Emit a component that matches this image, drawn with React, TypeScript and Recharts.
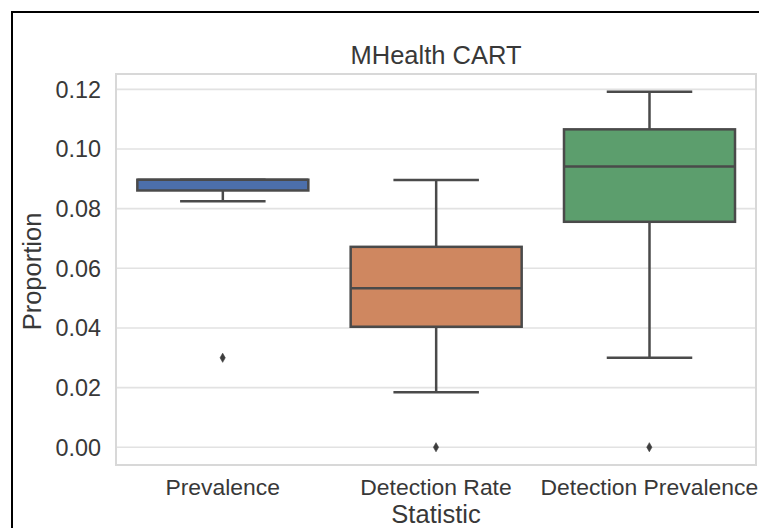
import React from 'react';
import {
  ComposedChart,
  Bar,
  Scatter,
  XAxis,
  YAxis,
  CartesianGrid,
  ReferenceArea,
} from 'recharts';

// Box-plot summary per statistic
const categories = ['Prevalence', 'Detection Rate', 'Detection Prevalence'];
const whiskerLow = [0.0825, 0.0184, 0.03];
const q1 = [0.0861, 0.0404, 0.0756];
const median = [0.0897, 0.0533, 0.0941];
const q3 = [0.0897, 0.0672, 0.1066];
const whiskerHigh = [0.0897, 0.0896, 0.1192];
const outliers = [0.03, 0.0, 0.0];
const yTicks = [0, 0.02, 0.04, 0.06, 0.08, 0.1, 0.12];
const boxColors = ['#4c6fab', '#cf8760', '#5c9e6d'];

const FONT = '"Liberation Sans", Arial, Helvetica, sans-serif';
const TEXT = '#383838';
const LINE = '#4a4a4a';

const data = categories.map((name, i) => ({
  name,
  range: [whiskerLow[i], whiskerHigh[i]],
  whiskerLow: whiskerLow[i],
  q1: q1[i],
  median: median[i],
  q3: q3[i],
  whiskerHigh: whiskerHigh[i],
  outlier: outliers[i],
  color: boxColors[i],
}));

// axis limits with a 5% margin around all plotted values
const allValues = [...whiskerLow, ...whiskerHigh, ...outliers];
const lo = Math.min(...allValues);
const hi = Math.max(...allValues);
const pad = (hi - lo) * 0.05;
const yDomain: [number, number] = [lo - pad, hi + pad];

const BoxShape = (props: any) => {
  const { x, y, width, height, payload } = props;
  const top = payload.whiskerHigh;
  const bottom = payload.whiskerLow;
  const span = top - bottom || 1;
  const toPx = (v: number) => y + ((top - v) / span) * height;
  const cx = x + width / 2;
  const capHalf = width / 4;
  const yQ1 = toPx(payload.q1);
  const yQ3 = toPx(payload.q3);
  const yMed = toPx(payload.median);
  const yLo = toPx(payload.whiskerLow);
  const yHi = toPx(payload.whiskerHigh);
  const sw = 2.5;
  return (
    <g>
      {/* whiskers */}
      <line x1={cx} x2={cx} y1={yQ1} y2={yLo} stroke={LINE} strokeWidth={sw} />
      <line x1={cx} x2={cx} y1={yQ3} y2={yHi} stroke={LINE} strokeWidth={sw} />
      <line x1={cx - capHalf} x2={cx + capHalf} y1={yLo} y2={yLo} stroke={LINE} strokeWidth={sw} />
      <line x1={cx - capHalf} x2={cx + capHalf} y1={yHi} y2={yHi} stroke={LINE} strokeWidth={sw} />
      {/* box */}
      <rect
        x={x}
        y={yQ3}
        width={width}
        height={Math.max(yQ1 - yQ3, 0)}
        fill={payload.color}
        stroke={LINE}
        strokeWidth={sw}
      />
      {/* median */}
      <line x1={x} x2={x + width} y1={yMed} y2={yMed} stroke={LINE} strokeWidth={sw} />
    </g>
  );
};

const Diamond = (props: any) => {
  const { cx, cy } = props;
  if (cx == null || cy == null) return null;
  const w = 2.6;
  const h = 4.6;
  return (
    <polygon
      points={`${cx},${cy - h} ${cx + w},${cy} ${cx},${cy + h} ${cx - w},${cy}`}
      fill="#3d3d3d"
      stroke="#3d3d3d"
      strokeWidth={0.6}
    />
  );
};

const YLabel = (props: any) => {
  const vb = props.viewBox || { x: 0, y: 74, width: 116, height: 391 };
  const bx = vb.x + 41;
  const cy = vb.y + vb.height / 2 + 2;
  return (
    <text
      x={bx}
      y={cy}
      transform={`rotate(-90 ${bx} ${cy})`}
      textAnchor="middle"
      fill={TEXT}
      fontSize={25.5}
      fontFamily={FONT}
    >
      Proportion
    </text>
  );
};

export default function App() {
  return (
    <div
      style={{
        position: 'absolute',
        left: 0,
        top: 0,
        width: 759,
        height: 528,
        overflow: 'hidden',
        background: '#ffffff',
      }}
    >
      <ComposedChart
        width={759}
        height={528}
        data={data}
        margin={{ top: 74, right: 3, bottom: 0, left: 0 }}
        barCategoryGap="10%"
        style={{ fontFamily: FONT }}
      >
        <CartesianGrid vertical={false} stroke="#e2e2e2" strokeWidth={1.6} />
        <XAxis
          dataKey="name"
          type="category"
          height={63}
          interval={0}
          axisLine={false}
          tickLine={false}
          tickSize={6}
          tickMargin={7.4}
          tick={{ fontSize: 22.9, fill: TEXT, fontFamily: FONT }}
          label={{
            value: 'Statistic',
            position: 'insideBottom',
            offset: 5,
            fill: TEXT,
            fontSize: 25.5,
            fontFamily: FONT,
          }}
        />
        <YAxis
          type="number"
          width={116}
          domain={yDomain}
          ticks={yTicks}
          allowDataOverflow
          axisLine={false}
          tickLine={false}
          tickSize={6}
          tickMargin={9}
          tickFormatter={(v: number) => v.toFixed(2)}
          tick={{ fontSize: 23.4, fill: TEXT, fontFamily: FONT }}
          label={<YLabel />}
        />
        <ReferenceArea
          y1={yDomain[0]}
          y2={yDomain[1]}
          fill="none"
          fillOpacity={0}
          stroke="#d8d8d8"
          strokeWidth={2}
          ifOverflow="visible"
          label={{
            value: 'MHealth CART',
            position: 'top',
            offset: 10,
            fill: TEXT,
            fontSize: 25.5,
            fontFamily: FONT,
          }}
        />
        <Bar dataKey="range" shape={<BoxShape />} isAnimationActive={false} />
        <Scatter dataKey="outlier" shape={<Diamond />} isAnimationActive={false} />
      </ComposedChart>
      <div
        style={{
          position: 'absolute',
          left: 11,
          top: 11,
          width: 800,
          height: 600,
          borderLeft: '2px solid #000',
          borderTop: '2px solid #000',
          pointerEvents: 'none',
        }}
      />
    </div>
  );
}
